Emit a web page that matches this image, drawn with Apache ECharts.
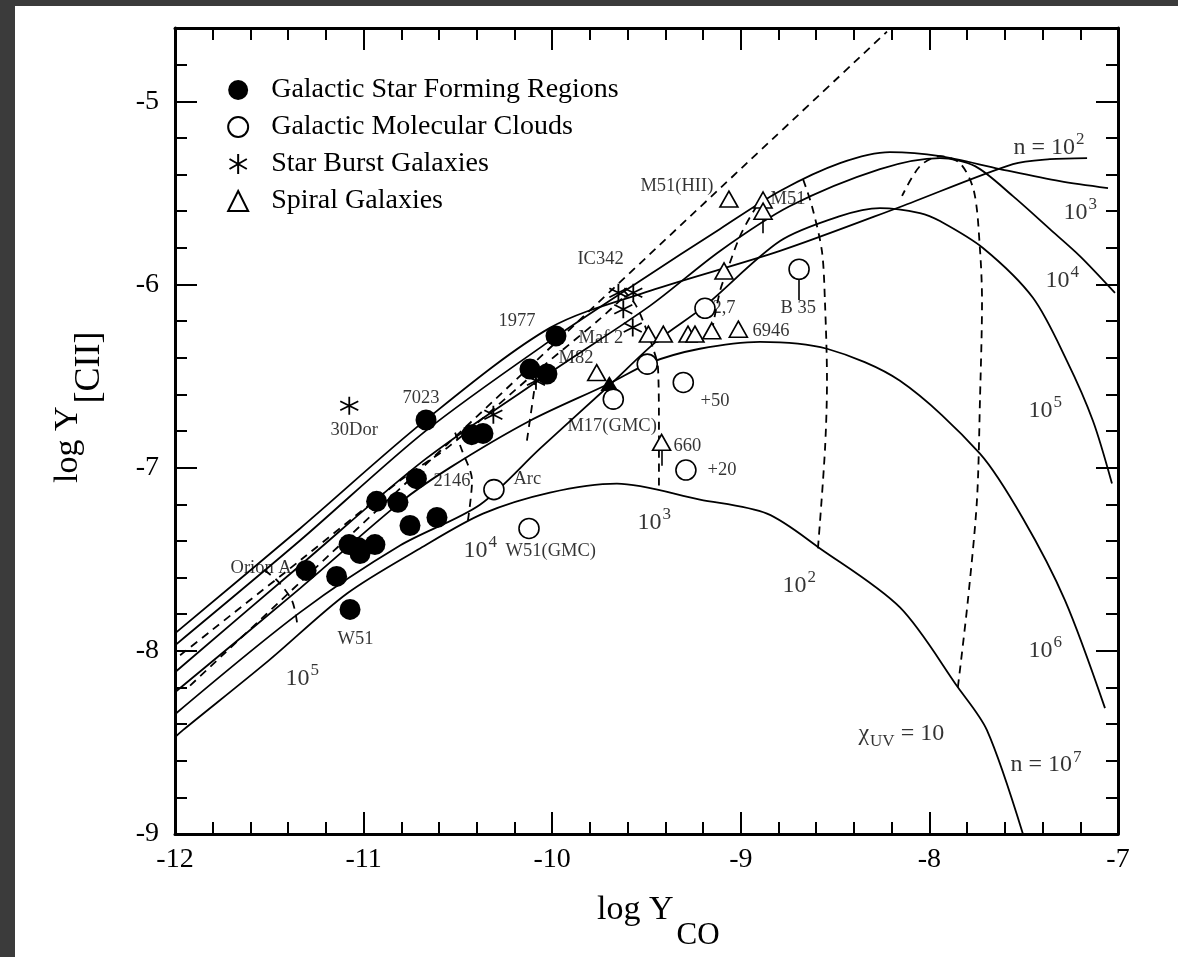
<!DOCTYPE html>
<html>
<head>
<meta charset="utf-8">
<script src="https://cdn.jsdelivr.net/npm/echarts/dist/echarts.min.js"></script>
<style>
  html, body { margin: 0; padding: 0; background: #3b3b3b; }
  #chart { width: 1178px; height: 957px; }
</style>
</head>
<body>
<div id="chart"></div>
<script>
// ---- model grid: constant density curves (solid), log Y_CO vs log Y_[CII] ----
const n1e7 = [[-12.0,-8.471],[-11.958,-8.433],[-11.502,-8.052],[-11.088,-7.687],[-10.701,-7.441],[-10.367,-7.251],[-10.012,-7.136],[-9.657,-7.087],[-9.217,-7.174],[-8.861,-7.251],[-8.580,-7.441],[-8.156,-7.763],[-7.849,-8.199],[-7.695,-8.433],[-7.504,-9.0]];
const n1e6 = [[-12.0,-8.226],[-11.337,-7.659],[-10.807,-7.191],[-10.542,-7.000],[-10.118,-6.744],[-9.699,-6.542],[-9.482,-6.428],[-9.217,-6.351],[-8.898,-6.313],[-8.543,-6.351],[-8.156,-6.526],[-7.732,-6.924],[-7.504,-7.278],[-7.281,-7.725],[-7.069,-8.313]];
const n1e5 = [[-12.0,-8.346],[-11.337,-7.790],[-10.807,-7.425],[-10.383,-7.202],[-10.065,-6.896],[-9.699,-6.553],[-9.444,-6.308],[-9.190,-6.117],[-8.792,-5.763],[-8.474,-5.627],[-8.262,-5.583],[-8.050,-5.610],[-7.944,-5.654],[-7.716,-5.801],[-7.451,-6.073],[-7.271,-6.417],[-7.133,-6.744],[-7.032,-7.087]];
const n1e4 = [[-12.0,-8.117],[-11.337,-7.534],[-10.669,-6.951],[-10.012,-6.482],[-9.482,-6.117],[-9.110,-5.817],[-8.739,-5.572],[-8.262,-5.370],[-7.944,-5.310],[-7.758,-5.354],[-7.557,-5.518],[-7.361,-5.698],[-7.202,-5.845],[-7.016,-6.046]];
const n1e3 = [[-12.0,-7.970],[-11.337,-7.398],[-10.669,-6.798],[-10.012,-6.308],[-9.535,-5.981],[-9.110,-5.697],[-8.792,-5.490],[-8.474,-5.338],[-8.209,-5.278],[-7.944,-5.300],[-7.626,-5.370],[-7.308,-5.436],[-7.053,-5.474]];
const n1e2 = [[-12.0,-7.905],[-11.337,-7.332],[-10.669,-6.738],[-10.012,-6.237],[-9.482,-6.035],[-8.792,-5.817],[-8.156,-5.577],[-7.557,-5.343],[-7.361,-5.316],[-7.164,-5.310]];

// ---- constant UV field curves and reference lines (dashed) ----
const thinLimit = [[-11.92,-8.19],[-8.225,-4.62]];
const bundleDash = [[-11.973,-8.024],[-11.337,-7.507],[-10.807,-7.071],[-10.542,-6.880],[-10.065,-6.460],[-9.747,-6.188],[-9.614,-6.062]];
const chi1e1 = [[-7.849,-8.199],[-7.796,-7.725],[-7.748,-7.180],[-7.732,-6.635],[-7.721,-6.090],[-7.732,-5.806],[-7.764,-5.490],[-7.838,-5.338],[-7.944,-5.300],[-8.050,-5.354],[-8.145,-5.517]];
const chi1e2 = [[-8.591,-7.441],[-8.554,-6.907],[-8.543,-6.526],[-8.554,-6.090],[-8.570,-5.817],[-8.623,-5.572],[-8.670,-5.425]];
const chi1e3 = [[-9.434,-7.098],[-9.434,-6.798],[-9.439,-6.455],[-9.466,-6.346],[-9.508,-6.226],[-9.561,-6.106],[-9.630,-6.024]];
const chi1e3b = [[-9.153,-6.253],[-9.110,-6.035],[-9.073,-5.926],[-9.004,-5.736],[-8.925,-5.588],[-8.872,-5.517]];
const chi1e4 = [[-10.447,-7.289],[-10.425,-7.071],[-10.478,-6.907],[-10.515,-6.809]];
const chi1e4b = [[-10.134,-6.853],[-10.075,-6.433]];
const chi1e5 = [[-11.353,-7.845],[-11.380,-7.725],[-11.459,-7.616],[-11.539,-7.550]];

// ---- observations ----
const starForming = [[-11.305,-7.561],[-11.143,-7.594],[-11.072,-7.774],[-11.077,-7.420],[-11.030,-7.436],[-11.019,-7.469],[-10.940,-7.420],[-10.931,-7.184],[-10.818,-7.189],[-10.754,-7.316],[-10.611,-7.272],[-10.720,-7.060],[-10.669,-6.740],[-10.427,-6.820],[-10.367,-6.813],[-10.118,-6.462],[-10.028,-6.489],[-9.980,-6.281]];
const starFormingTri = [[-9.697,-6.541]];
const molClouds = [[-10.309,-7.120],[-10.123,-7.332],[-9.676,-6.626],[-9.496,-6.435],[-9.305,-6.535],[-9.291,-7.013],[-9.190,-6.130],[-8.691,-5.917]];
const starBursts = [[-11.076,-6.662],[-10.312,-6.711],[-10.086,-6.526],[-9.649,-6.045],[-9.570,-6.045],[-9.623,-6.135],[-9.573,-6.235]];
const spirals = [[-9.063,-5.534],[-8.882,-5.539],[-8.882,-5.600],[-9.089,-5.926],[-9.490,-6.271],[-9.411,-6.271],[-9.280,-6.271],[-9.243,-6.271],[-9.154,-6.253],[-9.013,-6.244],[-9.764,-6.481],[-9.420,-6.862]];
// upper limits: [x, y where the arrow starts, y of arrow tip]
const upperLimits = [[-8.691,-5.975,-6.085],[-8.882,-5.640,-5.720],[-9.420,-6.905,-6.990]];

// ---- text annotations: [x, y, text] (left edge, vertical middle) ----
const sourceNames = [
  [-11.708,-7.550,'Orion A'],[-11.141,-7.937,'W51'],[-10.796,-6.618,'7023'],[-11.178,-6.798,'30Dor'],
  [-10.632,-7.071,'2146'],[-10.208,-7.065,'Arc'],[-10.287,-6.199,'1977'],[-9.969,-6.400,'M82'],
  [-9.863,-6.291,'Maf 2'],[-9.869,-5.861,'IC342'],[-9.922,-6.771,'M17(GMC)'],[-9.360,-6.880,'660'],
  [-9.216,-6.635,'+50'],[-9.179,-7.011,'+20'],[-9.153,-6.128,'2,7'],[-8.792,-6.128,'B 35'],
  [-8.941,-6.253,'6946'],[-9.535,-5.463,'M51(HII)'],[-8.845,-5.534,'M51'],[-10.250,-7.458,'W51(GMC)']
];
const curveNames = [
  [-7.557,-5.251,'{t|n = 10}{sup|2}'],[-7.292,-5.610,'{t|10}{sup|3}'],[-7.387,-5.981,'{t|10}{sup|4}'],
  [-7.477,-6.689,'{t|10}{sup|5}'],[-7.477,-7.997,'{t|10}{sup|6}'],[-7.573,-8.624,'{t|n = 10}{sup|7}'],
  [-8.379,-8.450,'{t|χ}{sub|UV}{t| = 10}'],[-8.782,-7.643,'{t|10}{sup|2}'],[-9.551,-7.300,'{t|10}{sup|3}'],
  [-10.473,-7.452,'{t|10}{sup|4}'],[-11.417,-8.150,'{t|10}{sup|5}']
];

const xTickLabels = ['-12','-11','-10','-9','-8','-7'];
const yTickLabels = ['-9','-8','-7','-6','-5'];

const SERIF = '"Liberation Serif", "DejaVu Serif", serif';
const ASTERISK = 'path://M0,-10L0,10M-8.66,-5L8.66,5M-8.66,5L8.66,-5';

const chart = echarts.init(document.getElementById('chart'), null, { renderer: 'canvas' });

function solid(data) {
  return { type: 'line', data, showSymbol: false, smooth: 0.3, silent: true,
    lineStyle: { color: '#000', width: 1.8 }, z: 2 };
}
function dashed(data) {
  return { type: 'line', data, showSymbol: false, smooth: 0.3, silent: true,
    lineStyle: { color: '#000', width: 1.8, type: [8, 6] }, z: 2 };
}

const minorAxis = (extra) => Object.assign({
  type: 'value', interval: 0.2,
  axisLine: { show: true, onZero: false, lineStyle: { color: '#000', width: 3 } },
  axisTick: { show: true, inside: true, length: 12, lineStyle: { color: '#000', width: 2 } },
  axisLabel: { show: false }, splitLine: { show: false }
}, extra);
const majorAxis = (extra) => Object.assign({
  type: 'value', interval: 1,
  axisLine: { show: false, onZero: false },
  axisTick: { show: true, inside: true, length: 22, lineStyle: { color: '#000', width: 2 } },
  axisLabel: { show: false }, splitLine: { show: false }
}, extra);

const fmtX = v => { const s = String(Math.round(v)); return Math.abs(v - Math.round(v)) < 1e-6 && xTickLabels.includes(s) ? s : ''; };
const fmtY = v => { const s = String(Math.round(v)); return Math.abs(v - Math.round(v)) < 1e-6 && yTickLabels.includes(s) ? s : ''; };

const option = {
  animation: false,
  backgroundColor: '#3b3b3b',
  graphic: [
    { type: 'rect', shape: { x: 15, y: 6, width: 1163, height: 951 }, style: { fill: '#fff' }, z: -100, silent: true },
    { type: 'text', left: 597, top: 893, z: 10,
      style: { text: '{a|log Y}{b|CO}', rich: {
        a: { fontFamily: SERIF, fontSize: 34, fill: '#000' },
        b: { fontFamily: SERIF, fontSize: 31, fill: '#000', padding: [52, 0, 0, 3] } } } },
    { type: 'text', x: 28, y: 483, rotation: Math.PI / 2, z: 10,
      style: { text: '{a|log Y}{b|[CII]}', rich: {
        a: { fontFamily: SERIF, fontSize: 34, fill: '#000' },
        b: { fontFamily: SERIF, fontSize: 36, fill: '#000', padding: [44, 0, 0, 3] } } } }
  ],
  grid: { left: 175, right: 60, top: 28, bottom: 123, containLabel: false },
  legend: {
    orient: 'vertical', left: 222, top: 71, itemWidth: 20, itemHeight: 20, itemGap: 9,
    selectedMode: false,
    textStyle: { fontFamily: SERIF, fontSize: 28, color: '#000', padding: [0, 0, 0, 18] },
    data: ['Galactic Star Forming Regions', 'Galactic Molecular Clouds', 'Star Burst Galaxies', 'Spiral Galaxies']
  },
  xAxis: [
    minorAxis({ position: 'bottom', min: -12, max: -7 }),
    majorAxis({ position: 'bottom', min: -12, max: -7,
      axisLabel: { show: true, margin: 12, fontFamily: SERIF, fontSize: 28, color: '#000', formatter: fmtX } }),
    minorAxis({ position: 'top', min: -12, max: -7 }),
    majorAxis({ position: 'top', min: -12, max: -7 })
  ],
  yAxis: [
    minorAxis({ position: 'left', min: -9, max: -4.6 }),
    majorAxis({ position: 'left', min: -9, max: -4.6,
      axisLabel: { show: true, margin: 16, fontFamily: SERIF, fontSize: 28, color: '#000', formatter: fmtY } }),
    minorAxis({ position: 'right', min: -9, max: -4.6 }),
    majorAxis({ position: 'right', min: -9, max: -4.6 })
  ],
  series: [
    solid(n1e7), solid(n1e6), solid(n1e5), solid(n1e4), solid(n1e3), solid(n1e2),
    dashed(thinLimit), dashed(bundleDash), dashed(chi1e1), dashed(chi1e2), dashed(chi1e3),
    dashed(chi1e3b), dashed(chi1e4), dashed(chi1e4b), dashed(chi1e5),
    {
      type: 'line', data: [], silent: true, showSymbol: false,
      markLine: {
        silent: true, symbol: ['none', 'arrow'], symbolSize: [0, 9], label: { show: false },
        lineStyle: { color: '#000', width: 1.6, type: 'solid' },
        data: upperLimits.map(u => [{ coord: [u[0], u[1]] }, { coord: [u[0], u[2]] }])
      }
    },
    {
      name: 'Galactic Star Forming Regions', type: 'scatter', symbol: 'circle', symbolSize: 21,
      itemStyle: { color: '#000', opacity: 1 }, z: 5,
      data: starForming.map(p => ({ value: p })).concat(starFormingTri.map(p => ({ value: p, symbol: 'triangle', symbolSize: [18, 15] })))
    },
    {
      name: 'Galactic Molecular Clouds', type: 'scatter', symbol: 'circle', symbolSize: 20,
      itemStyle: { color: '#fff', borderColor: '#000', borderWidth: 1.6, opacity: 1 }, z: 5, data: molClouds
    },
    {
      name: 'Star Burst Galaxies', type: 'scatter', symbol: ASTERISK, symbolSize: 18,
      itemStyle: { color: 'none', borderColor: '#000', borderWidth: 1.8, opacity: 1 }, z: 5, data: starBursts
    },
    {
      name: 'Spiral Galaxies', type: 'scatter', symbol: 'triangle', symbolSize: [18, 16],
      itemStyle: { color: '#fff', borderColor: '#000', borderWidth: 1.6, opacity: 1 }, z: 5, data: spirals
    },
    {
      type: 'scatter', symbolSize: 1, silent: true, itemStyle: { color: 'rgba(0,0,0,0)' }, z: 6,
      label: { show: true, position: 'right', distance: 0, fontFamily: SERIF, fontSize: 18.5, color: '#000',
        formatter: p => p.name },
      data: sourceNames.map(l => ({ name: l[2], value: [l[0], l[1]] }))
    },
    {
      type: 'scatter', symbolSize: 1, silent: true, itemStyle: { color: 'rgba(0,0,0,0)' }, z: 6,
      label: { show: true, position: 'right', distance: 0, formatter: p => p.name,
        rich: {
          t: { fontFamily: SERIF, fontSize: 24, color: '#000' },
          sup: { fontFamily: SERIF, fontSize: 17, color: '#000', padding: [0, 0, 16, 1] },
          sub: { fontFamily: SERIF, fontSize: 17, color: '#000', padding: [16, 0, 0, 1] }
        } },
      data: curveNames.map(l => ({ name: l[2], value: [l[0], l[1]] }))
    }
  ]
};
chart.setOption(option);
</script>
</body>
</html>
